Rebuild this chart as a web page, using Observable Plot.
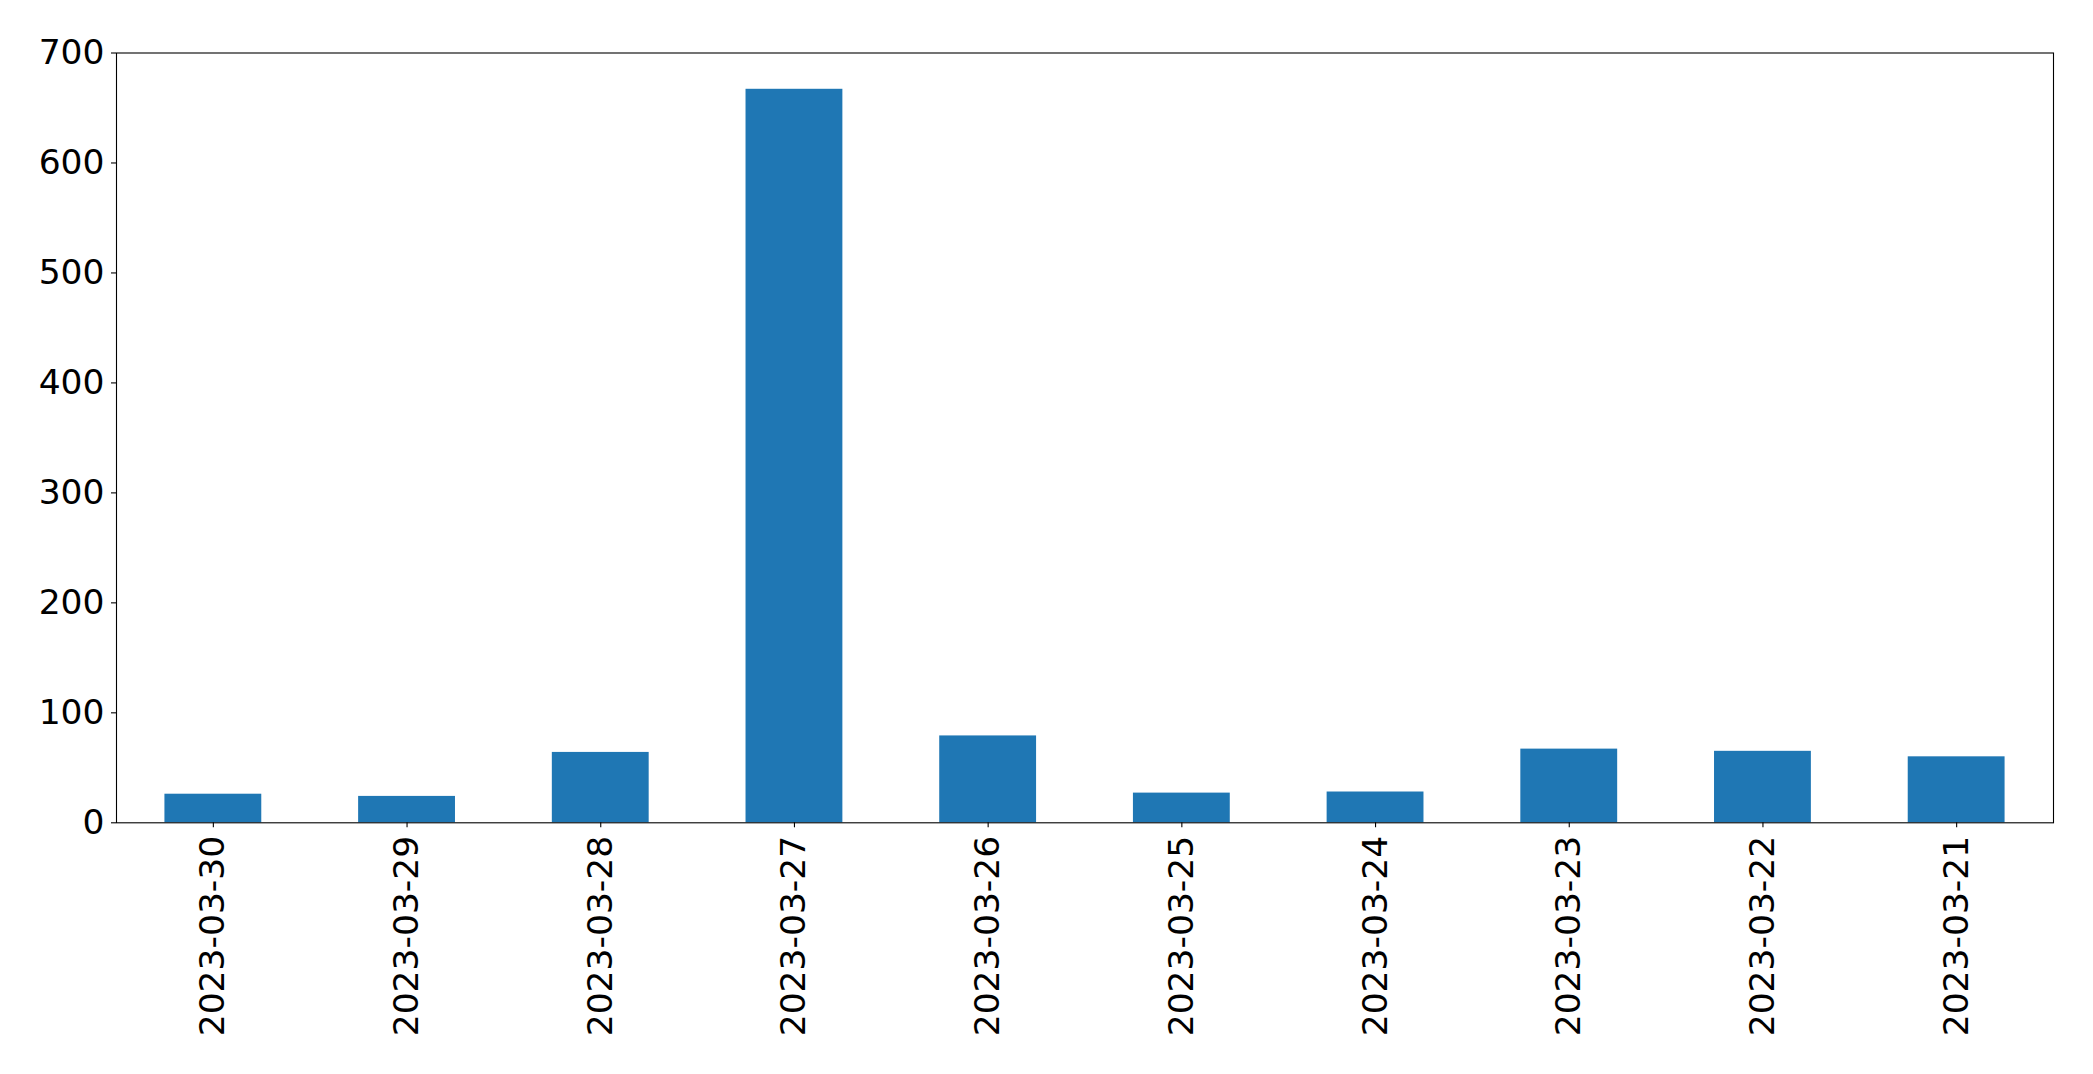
<!DOCTYPE html>
<html>
<head>
<meta charset="utf-8">
<script src="https://cdn.jsdelivr.net/npm/d3@7"></script>
<script src="https://cdn.jsdelivr.net/npm/@observablehq/plot@0.6"></script>
<style>
  html, body { margin: 0; padding: 0; background: #fff; }
  #chart svg { display: block; }
</style>
</head>
<body>
<div id="chart"></div>
<script>
const dates = ["2023-03-30","2023-03-29","2023-03-28","2023-03-27","2023-03-26","2023-03-25","2023-03-24","2023-03-23","2023-03-22","2023-03-21"];
const counts = [26, 24, 64, 667, 79, 27, 28, 67, 65, 60];
const yTicks = [0, 100, 200, 300, 400, 500, 600, 700];

const data = dates.map((d, i) => ({date: d, value: counts[i]}));

const chart = Plot.plot({
  width: 2093,
  height: 1074,
  marginLeft: 116,
  marginRight: 40,
  marginTop: 52.5,
  marginBottom: 251.7,
  style: {
    fontFamily: "'DejaVu Sans', sans-serif",
    fontSize: "34.5px",
    color: "#000",
    background: "#fff",
    overflow: "visible"
  },
  x: {
    domain: dates,
    paddingInner: 0.5,
    paddingOuter: 0.25,
    align: 0.5,
    round: false,
    label: null
  },
  y: {
    domain: [0, 700],
    label: null
  },
  marks: [
    Plot.barY(data, {x: "date", y: "value", fill: "#1f77b4"}),
    Plot.axisY({ticks: yTicks, tickSize: 5, tickPadding: 7, label: null, fontSize: 34.5, stroke: "#000", strokeWidth: 1.1}),
    Plot.axisX({tickSize: 5, tickPadding: 8, tickRotate: -90, label: null, fontSize: 34.5, stroke: "#000", strokeWidth: 1.1}),
    Plot.frame({stroke: "#000", strokeWidth: 1.1})
  ]
});
document.getElementById("chart").appendChild(chart);
</script>
</body>
</html>
